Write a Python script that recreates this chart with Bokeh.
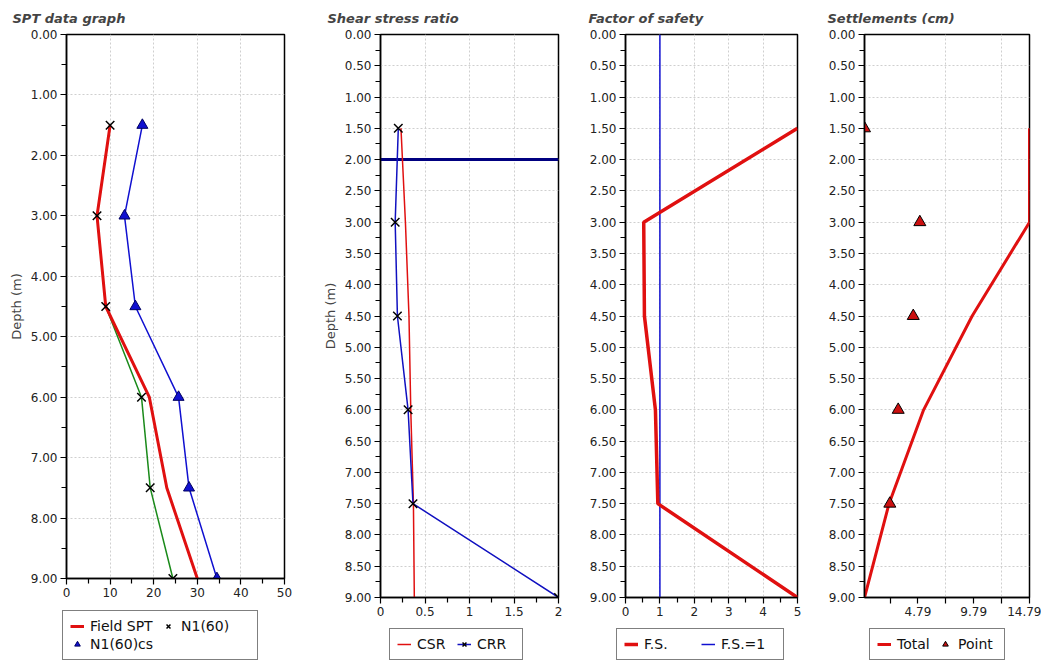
from bokeh.plotting import figure
from bokeh.layouts import row, column
from bokeh.models import Range1d, FixedTicker, Legend, LegendItem, NumeralTickFormatter
from bokeh.embed import file_html
from bokeh.resources import INLINE

# ---------------- data ----------------
depth = [1.5, 3.0, 4.5, 6.0, 7.5, 9.0]
field_spt = [10, 7, 9, 19, 23, 30]
n1_60 = [10, 7, 9, 17.2, 19.2, 24.4]
n1_60cs = [17.4, 13.3, 15.8, 25.7, 28.1, 34.5]

csr = [0.23, 0.28, 0.32, 0.34, 0.37, 0.38]
crr = [0.20, 0.165, 0.19, 0.31, 0.365, 2.0]
water_table_depth = 2.0
water_table_x = [0.0, 2.0]

fs = [5.0, 0.53, 0.55, 0.87, 0.94, 5.0]
fs_limit_x = [1.0, 1.0]
fs_limit_depth = [0.0, 9.0]

settle_total = [14.79, 14.79, 9.65, 5.3, 2.2, 0.0]
point_depth = [1.5, 3.0, 4.5, 6.0, 7.5]
settle_point = [0.0, 4.96, 4.37, 3.02, 2.27]

spt_xticks = [0, 10, 20, 30, 40, 50]
csr_xticks = [0, 0.5, 1, 1.5, 2]
fs_xticks = [0, 1, 2, 3, 4, 5]
set_xticks = [4.79, 9.79, 14.79]
set_xminor = [2.29, 7.29, 12.29]
set_xgrid = [7.29, 12.29]

FONT = "DejaVu Sans"
RED = "#e01010"
BLUE = "#1010d0"
GREEN = "#1a8a1a"


def make_fig(title, xr, width, height, bl, br, title_off, xticks, xminor, yticks, yminor,
             xgrid, ygrid, xfmt, ylabel=None):
    p = figure(width=width, height=height,
               x_range=Range1d(*xr), y_range=Range1d(9, 0),
               output_backend="svg", toolbar_location=None,
               min_border_left=bl, min_border_right=br, min_border_top=34, min_border_bottom=24)
    p.frame_align = False
    p.title.text = title
    p.title.text_font = FONT
    p.title.text_font_style = "bold italic"
    p.title.text_font_size = "13px"
    p.title.align = "left"
    p.title.offset = title_off
    p.title.vertical_align = "bottom"
    p.title.standoff = 17
    p.outline_line_color = "black"
    p.outline_line_width = 1.5
    p.background_fill_color = "white"
    p.border_fill_color = "white"

    xa = p.below[0]
    ya = p.left[0]
    xa.ticker = FixedTicker(ticks=xticks, minor_ticks=xminor)
    ya.ticker = FixedTicker(ticks=yticks, minor_ticks=yminor)
    xa.formatter = NumeralTickFormatter(format=xfmt)
    ya.formatter = NumeralTickFormatter(format="0.00")
    for ax in (xa, ya):
        ax.axis_line_color = "black"
        ax.axis_line_width = 1.5
        ax.major_tick_line_color = "black"
        ax.minor_tick_line_color = "black"
        ax.major_tick_line_width = 1.2
        ax.minor_tick_line_width = 1.2
        ax.major_tick_out = 6
        ax.major_tick_in = 0
        ax.minor_tick_out = 5
        ax.minor_tick_in = 0
        ax.major_label_text_font = FONT
        ax.major_label_text_font_size = "12px"
        ax.major_label_text_color = "#222222"
        ax.major_label_standoff = 3
    if ylabel:
        ya.axis_label = ylabel
        ya.axis_label_text_font = FONT
        ya.axis_label_text_font_size = "13px"
        ya.axis_label_text_font_style = "normal"
        ya.axis_label_standoff = 4

    p.xgrid.ticker = FixedTicker(ticks=xgrid)
    p.ygrid.ticker = FixedTicker(ticks=ygrid)
    for g in (p.xgrid, p.ygrid):
        g.grid_line_color = "#cfcfcf"
        g.grid_line_dash = "2 2"
        g.grid_line_width = 1
    return p, xa


def legend_fig(width, height):
    # legend-only strip; its range keeps the sample glyphs out of view
    lf = figure(width=width, height=height, x_range=Range1d(-2, -1), y_range=Range1d(-2, -1),
                output_backend="svg", toolbar_location=None,
                x_axis_type=None, y_axis_type=None,
                min_border_left=0, min_border_right=0, min_border_top=0, min_border_bottom=0)
    lf.frame_align = False
    lf.outline_line_color = None
    lf.grid.visible = False
    lf.background_fill_color = "white"
    lf.border_fill_color = "white"
    return lf


def add_legend(lf, items, loc, label_w, ncols=None):
    lg = Legend(items=items, location=loc, orientation="horizontal")
    if ncols:
        lg.ncols = ncols
    lg.border_line_color = "black"
    lg.border_line_width = 1.5
    lg.background_fill_alpha = 1.0
    lg.label_text_font = FONT
    lg.label_text_font_size = "14px"
    lg.label_text_color = "#111111"
    lg.glyph_width = 14
    lg.glyph_height = 14
    lg.label_standoff = 6
    lg.label_width = label_w
    lg.label_height = 16
    lg.spacing = 2
    lg.padding = 7
    lg.margin = 0
    lf.add_layout(lg, "center")


y_half = [i * 0.5 for i in range(19)]
y_quarter = [0.25 + i * 0.5 for i in range(18)]

# ---------------- panel 1 ----------------
p1, _ = make_fig("SPT data graph", (0, 50), 300, 602, 66, 16, -54,
                 spt_xticks, [5, 15, 25, 35, 45], list(range(0, 10)), [0.5 + i for i in range(9)],
                 [10, 20, 30, 40], list(range(1, 9)), "0", "Depth (m)")
p1.line(n1_60, depth, line_color=GREEN, line_width=1.5)
p1.line(field_spt, depth, line_color=RED, line_width=3)
p1.line(n1_60cs, depth, line_color=BLUE, line_width=1.5)
p1.scatter(n1_60, depth, marker="x", size=12, line_color="black", line_width=1.5)
p1.scatter(n1_60cs, depth, marker="triangle", size=11, fill_color=BLUE,
           line_color="#000060", line_width=1)
l1 = legend_fig(300, 60)
e1a = l1.line(field_spt[:1], depth[:1], line_color=RED, line_width=3)
e1b = l1.scatter(n1_60[:1], depth[:1], marker="x", size=9, line_color="black", line_width=1.5)
e1c = l1.scatter(n1_60cs[:1], depth[:1], marker="triangle", size=8, fill_color=BLUE,
                 line_color="#000060")
add_legend(l1, [LegendItem(label="Field SPT", renderers=[e1a]),
                LegendItem(label="N1(60)", renderers=[e1b]),
                LegendItem(label="N1(60)cs", renderers=[e1c])], (62, 2), 69, ncols=2)

# ---------------- panel 2 ----------------
p2, _ = make_fig("Shear stress ratio", (0, 2), 270, 621, 80, 12, -53,
                 csr_xticks, [0.25, 0.75, 1.25, 1.75], y_half, y_quarter,
                 [0.5, 1, 1.5], y_half[1:-1], "0.[0]", "Depth (m)")
p2.line(water_table_x, [water_table_depth, water_table_depth], line_color="#000080", line_width=3)
p2.line(csr, depth, line_color=RED, line_width=1.5)
p2.line(crr, depth, line_color="#1010c0", line_width=1.5)
p2.scatter(crr, depth, marker="x", size=12, line_color="black", line_width=1.5)
l2 = legend_fig(270, 41)
e2a = l2.line(csr[:1], depth[:1], line_color=RED, line_width=1.5)
e2b = l2.line(crr[:1], depth[:1], line_color="#1010c0", line_width=1.5)
e2c = l2.scatter(crr[:1], depth[:1], marker="x", size=9, line_color="black", line_width=1.5)
add_legend(l2, [LegendItem(label="CSR", renderers=[e2a]),
                LegendItem(label="CRR", renderers=[e2b, e2c])], (89, 2), 38)

# ---------------- panel 3 ----------------
p3, _ = make_fig("Factor of safety", (0, 5), 235, 621, 55, 8, -37,
                 fs_xticks, [0.5, 1.5, 2.5, 3.5, 4.5], y_half, y_quarter,
                 [1, 2, 3, 4], y_half[1:-1], "0")
p3.line(fs_limit_x, fs_limit_depth, line_color=BLUE, line_width=1.5)
p3.line(fs, depth, line_color=RED, line_width=3.5)
l3 = legend_fig(235, 41)
e3a = l3.line(fs[:1], depth[:1], line_color=RED, line_width=3.5)
e3b = l3.line(fs_limit_x[:1], fs_limit_depth[:1], line_color=BLUE, line_width=1.5)
add_legend(l3, [LegendItem(label="F.S.", renderers=[e3a]),
                LegendItem(label="F.S.=1", renderers=[e3b])], (46, 2), 55)

# ---------------- panel 4 ----------------
p4, xa4 = make_fig("Settlements (cm)", (0, 14.79), 236, 621, 59, 12, -37,
                   set_xticks, set_xminor, y_half, y_quarter,
                   set_xgrid, y_half[1:-1], "0.00")
xa4.minor_tick_out = 6
p4.line(settle_total, depth, line_color=RED, line_width=3)
p4.scatter(settle_point, point_depth, marker="triangle", size=12, fill_color="#cc1010",
           line_color="black", line_width=1)
l4 = legend_fig(236, 41)
e4a = l4.line(settle_total[:1], depth[:1], line_color=RED, line_width=3)
e4b = l4.scatter(settle_point[:1], point_depth[:1], marker="triangle", size=8,
                 fill_color="#cc1010", line_color="black")
add_legend(l4, [LegendItem(label="Total", renderers=[e4a]),
                LegendItem(label="Point", renderers=[e4b])], (64, 2), 39)

layout = row(column(p1, l1), column(p2, l2), column(p3, l3), column(p4, l4))
open("out.html", "w").write(file_html(layout, INLINE))
